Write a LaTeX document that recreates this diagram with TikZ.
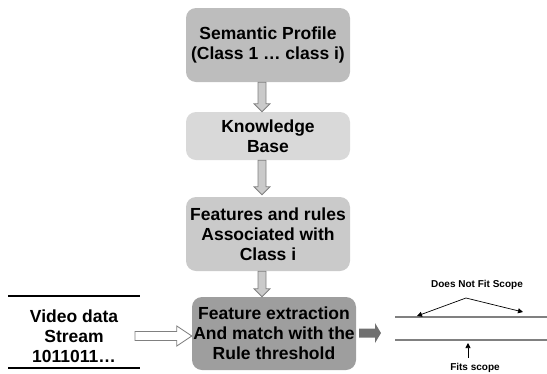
\documentclass[tikz,border=0pt]{standalone}
\usepackage{fontspec}
\setmainfont{Liberation Sans}
\usetikzlibrary{calc,arrows.meta}
\definecolor{cA}{HTML}{BDBDBD}
\definecolor{cB}{HTML}{D9D9D9}
\definecolor{cC}{HTML}{CACACA}
\definecolor{cD}{HTML}{9E9E9E}
\definecolor{edge}{HTML}{808080}
\definecolor{darkarr}{HTML}{707070}
\tikzset{
  box/.style={rounded corners=10pt, minimum width=164pt, align=center,
    font=\bfseries\fontsize{17.5}{20}\selectfont, inner sep=0pt},
  downarrow/.style={to path={let \p1=(\tikztostart), \p2=(\tikztotarget) in
    (\x1-4pt,\y1) -- (\x1-4pt,\y2+8pt) -- (\x1-8pt,\y2+8pt) -- (\x1,\y2)
    -- (\x1+8pt,\y2+8pt) -- (\x1+4pt,\y2+8pt) -- (\x1+4pt,\y1) -- cycle}},
  rightarrow/.style n args={3}{to path={let \p1=(\tikztostart), \p2=(\tikztotarget) in
    (\x1,\y1-#1) -- (\x2-#3,\y1-#1) -- (\x2-#3,\y1-#2) -- (\x2,\y1)
    -- (\x2-#3,\y1+#2) -- (\x2-#3,\y1+#1) -- (\x1,\y1+#1) -- cycle}},
  blockgray/.style={fill=cA!80!white, draw=edge, line width=0.8pt},
  small/.style={font=\bfseries\fontsize{10}{12}\selectfont, inner sep=0pt},
  thin arrow/.style={-{Triangle[length=5pt,width=5pt]}, line width=0.7pt},
  scope line/.style={draw=edge, line width=2pt}
}
\begin{document}
\begin{tikzpicture}[x=1pt,y=-1pt]
\useasboundingbox (0,0) rectangle (547,373);
% boxes
\node[box, fill=cA, minimum height=74pt] (b1) at (268,45) {Semantic Profile\\(Class 1 … class i)};
\node[box, fill=cB, minimum height=48pt] (b2) at (268,136) {Knowledge\\Base};
\node[box, fill=cC, minimum height=74pt] (b3) at (268,234) {Features and rules\\Associated with\\Class i};
\node[box, fill=cD, minimum height=73pt] (b4) at (274,333.5) {Feature extraction\\And match with the\\Rule threshold};
% arrows between boxes
\draw[blockgray] ([xshift=-6pt]b1.south) to[downarrow] ([xshift=-6pt]b2.north);
\draw[blockgray] ([xshift=-6pt]b2.south) to[downarrow] ([yshift=2pt,xshift=-6pt]b3.north);
\draw[blockgray] ([xshift=-6pt]b3.south) to[downarrow] ([xshift=-12pt]b4.north);
% video data
\node[font=\bfseries\fontsize{17.5}{20}\selectfont, align=center, inner sep=0pt] (vid) at (74,336) {Video data\\Stream\\1011011…};
\coordinate (vtl) at (8,296);
\coordinate (vtr) at (140,296);
\coordinate (vbl) at (8,368);
\coordinate (vbr) at (140,368);
\draw[line width=2pt] (vtl) -- (vtr);
\draw[line width=2pt] (vbl) -- (vbr);
\coordinate (vs) at (135,336);
\draw[fill=white, draw=edge, line width=0.8pt] (vs) to[rightarrow={4.5pt}{10pt}{15pt}] (b4.west |- vs);
% output arrow
\coordinate (os) at (359,333);
\coordinate (oe) at (381,333);
\fill[darkarr] (os) to[rightarrow={4.5pt}{10pt}{6pt}] (oe);
% scope lines
\coordinate (l1a) at (395,317);
\coordinate (l1b) at (547,317);
\coordinate (l2a) at (395,340);
\coordinate (l2b) at (547,340);
\draw[scope line] (l1a) -- (l1b);
\draw[scope line] (l2a) -- (l2b);
\node[small] (dnf) at (477,285) {Does Not Fit Scope};
\coordinate (apex) at (466,298);
\coordinate (tl) at (417,316);
\coordinate (tr) at (523,312);
\draw[thin arrow] (apex) -- (tl);
\draw[thin arrow] (apex) -- (tr);
\node[small, anchor=south] (fits) at (475,372.5) {Fits scope};
\coordinate (fa) at (468,358);
\coordinate (fb) at (468,343);
\draw[thin arrow] (fa) -- (fb);
\end{tikzpicture}
\end{document}
